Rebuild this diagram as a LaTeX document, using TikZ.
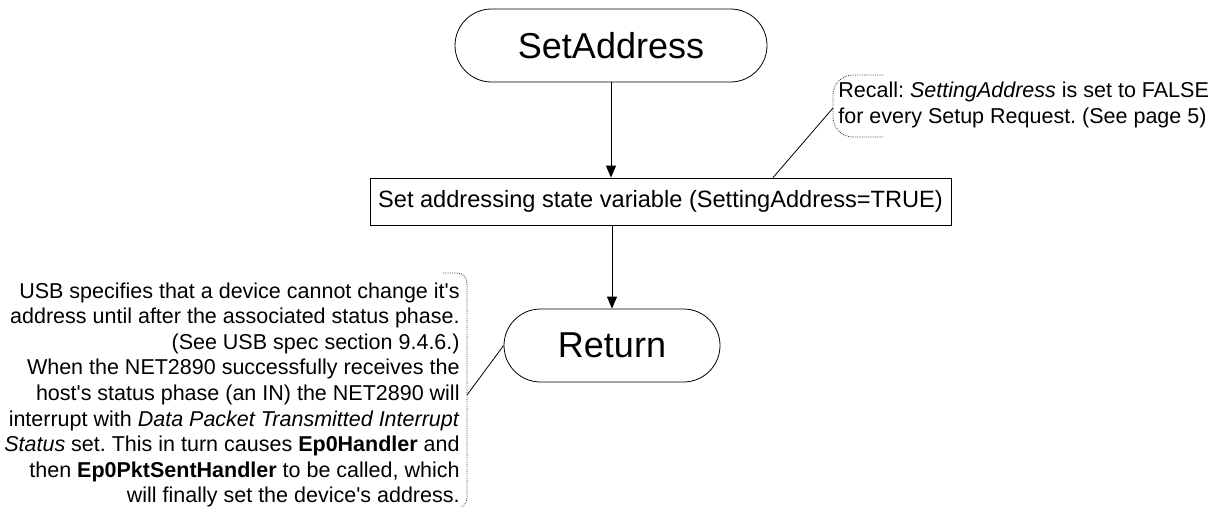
\documentclass[tikz,border=0pt]{standalone}
\usepackage{fontspec}
\setmainfont{Liberation Sans}
\usetikzlibrary{arrows.meta,shapes.misc}
\frenchspacing

\tikzset{
  terminal/.style={draw,rounded rectangle,inner sep=0pt,minimum height=73pt,font=\fontsize{36}{40}\selectfont},
  process/.style={draw,rectangle,inner sep=0pt,minimum height=47pt,font=\fontsize{23.6}{27}\selectfont},
  note/.style={inner sep=0pt,font=\fontsize{21.5}{25.6}\selectfont},
  bracket/.style={draw=darkgray,densely dotted},
}

\begin{document}
\begin{tikzpicture}[x=1pt,y=-1pt,line width=0.8pt,>={Triangle[length=12pt,width=10pt]}]
            \useasboundingbox (0,0) rectangle (1222,506);
            % flow
            \node[terminal,minimum width=312pt] (setaddr) at (611,45.5) {SetAddress};
            \node[process,minimum width=581pt] (setvar) at (660.5,201.5) {Set addressing state variable (SettingAddress=TRUE)};
            \node[terminal,minimum width=216pt] (ret) at (612,345.5) {Return};

            \draw[->] (setaddr.south) -- (setaddr.south |- setvar.north);
            \draw[->] (ret.north |- setvar.south) -- (ret.north);

            % recall note
            \node[note,anchor=west,align=left] (recall) at (838,105)
              {Recall: \textit{SettingAddress} is set to FALSE\\for every Setup Request. (See page 5)};
            \draw[bracket,rounded corners=20pt] (883,75) -- (833,75) -- (833,137) -- (883,137);
            \coordinate (recallpt) at (833,108);
            \draw (recallpt) -- ([xshift=112.5pt]setvar.north);

            % usb note
            \node[note,anchor=east,align=right] (usbnote) at (460,395)
              {USB specifies that a device cannot change it\textquotesingle s\\
               address until after the associated status phase.\\
               (See USB spec section 9.4.6.)\\
               When the NET2890 successfully receives the\\
               host\textquotesingle s status phase (an IN) the NET2890 will\\
               interrupt with \textit{Data Packet Transmitted Interrupt}\\
               \textit{Status} set. This in turn causes \textbf{Ep0Handler} and\\
               then \textbf{Ep0PktSentHandler} to be called, which\\
               will finally set the device\textquotesingle s address.};
            \draw[bracket,rounded corners=10pt] (443,273) -- (467,273) -- (467,508) -- (443,508);
            \coordinate (usbpt) at (467,395);
            \draw (usbpt) -- (ret.west);
\end{tikzpicture}
\end{document}
